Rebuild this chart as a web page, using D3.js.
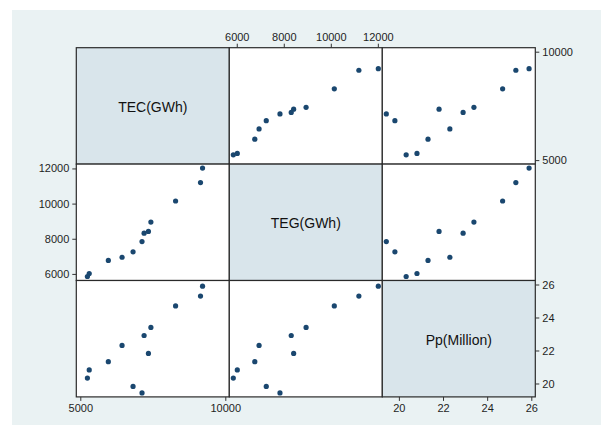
<!DOCTYPE html>
<html>
<head>
<meta charset="utf-8">
<script src="https://cdn.jsdelivr.net/npm/d3@7"></script>
<style>
  body { margin: 0; background: #fff; }
  svg { display: block; font-family: "Liberation Sans", Arial, Helvetica, sans-serif; }
  .tick text { fill: #1e1e1e; font-size: 11px; }
  .tick line { stroke: #333; }
</style>
</head>
<body>
<svg id="chart" width="601" height="425"></svg>
<script>
// variables (diagonal labels) and observations, ordered by population
var varNames = ["TEC(GWh)", "TEG(GWh)", "Pp(Million)"];
var tec = [7128, 6819, 5245, 5308, 5967, 7349, 6440, 7200, 7434, 8286, 9145, 9215];
var teg = [7838, 7255, 5853, 6023, 6767, 8420, 6949, 8317, 8949, 10149, 11194, 12020];
var pp = [19.43, 19.82, 20.33, 20.82, 21.32, 21.82, 22.31, 22.91, 23.40, 24.70, 25.30, 25.90];

var tecTicks = [5000, 10000];
var tegTicks = [6000, 8000, 10000, 12000];
var ppTicks = [20, 22, 24, 26];

var series = [tec, teg, pp];
var ticks = [tecTicks, tegTicks, ppTicks];

var svg = d3.select('#chart');
var gridLeft = 76.3, gridTop = 47.7;
var cellW = 153, cellH = 116.4, pad = 4;
var n = 3;

// graph region background
svg.append('rect')
    .attr('x', 12).attr('y', 10)
    .attr('width', 601 - 12).attr('height', 425 - 10)
    .attr('fill', '#eaf2f3');

// one x and y scale per variable, relative to a cell
var xs = [], ys = [];
for (var v = 0; v < n; v++) {
    var dom = d3.extent(series[v].concat(ticks[v]));
    xs.push(d3.scaleLinear().domain(dom).range([pad, cellW - pad]));
    ys.push(d3.scaleLinear().domain(dom).range([cellH - pad, pad]));
}

for (var r = 0; r < n; r++) {
    for (var c = 0; c < n; c++) {
        var g = svg.append('g')
            .attr('transform', 'translate(' + (gridLeft + c * cellW) + ',' + (gridTop + r * cellH) + ')');
        g.append('rect')
            .attr('width', cellW).attr('height', cellH)
            .attr('fill', r === c ? '#d9e5eb' : '#fff')
            .attr('stroke', '#2a2a2a')
            .attr('stroke-width', 1.2);
        if (r === c) {
            g.append('text')
                .attr('x', cellW / 2).attr('y', cellH / 2 + 6)
                .attr('text-anchor', 'middle')
                .attr('font-size', '14px')
                .attr('fill', '#111')
                .text(varNames[r]);
        } else {
            var xv = series[c], yv = series[r];
            g.selectAll('circle')
                .data(d3.range(xv.length))
                .enter().append('circle')
                .attr('cx', function (i) { return xs[c](xv[i]); })
                .attr('cy', function (i) { return ys[r](yv[i]); })
                .attr('r', 2.6)
                .attr('fill', '#1a476f');
        }
    }
}

function addAxis(axis, tx, ty) {
    var a = svg.append('g')
        .attr('transform', 'translate(' + tx + ',' + ty + ')')
        .call(axis.tickSize(4).tickPadding(3).tickFormat(d3.format('d')));
    a.select('.domain').remove();
    return a;
}

var bottomY = gridTop + n * cellH;
var rightX = gridLeft + n * cellW;

// top axis above TEG column
addAxis(d3.axisTop(xs[1]).tickValues(tegTicks), gridLeft + cellW, gridTop);
// bottom axes under TEC and Pp columns
addAxis(d3.axisBottom(xs[0]).tickValues(tecTicks), gridLeft, bottomY);
addAxis(d3.axisBottom(xs[2]).tickValues(ppTicks), gridLeft + 2 * cellW, bottomY);
// left axis beside TEG row
addAxis(d3.axisLeft(ys[1]).tickValues(tegTicks), gridLeft, gridTop + cellH);
// right axes beside TEC and Pp rows
addAxis(d3.axisRight(ys[0]).tickValues(tecTicks), rightX, gridTop);
addAxis(d3.axisRight(ys[2]).tickValues(ppTicks), rightX, gridTop + 2 * cellH);
</script>
</body>
</html>
